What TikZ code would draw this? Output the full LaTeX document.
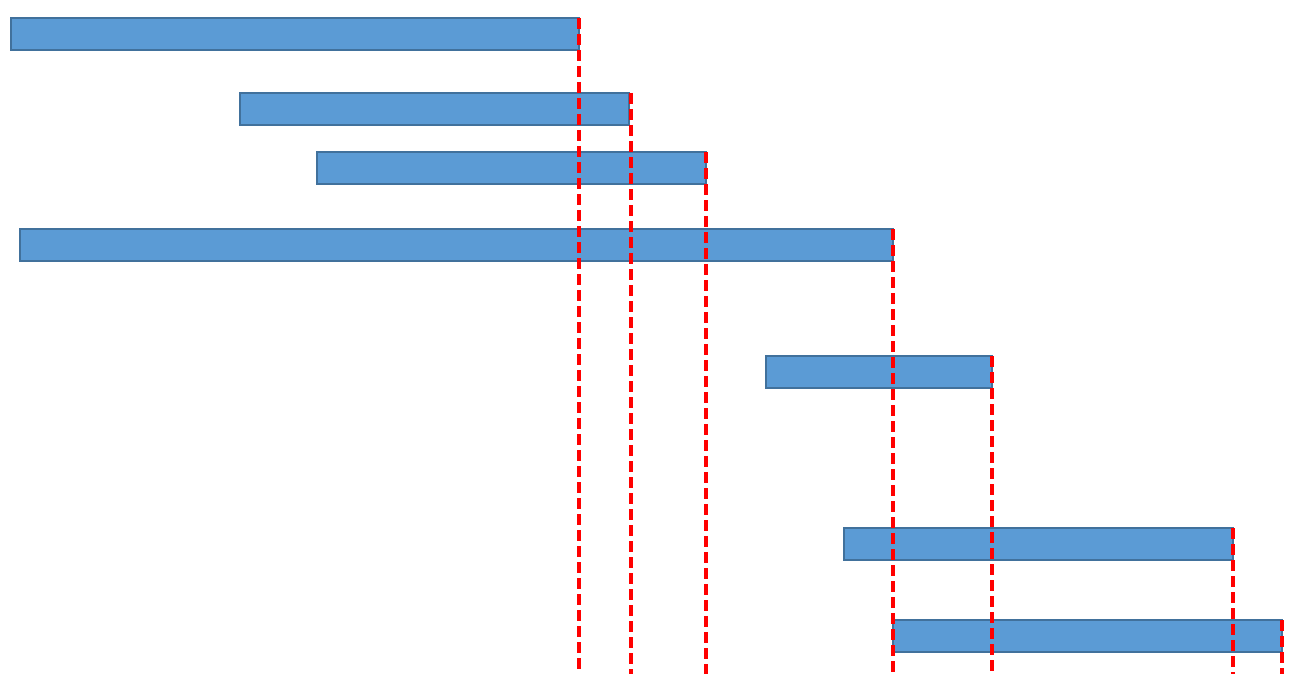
\documentclass[tikz,border=0pt]{standalone}
\usepackage{xcolor}
\definecolor{barfill}{HTML}{5B9BD5}
\definecolor{barline}{HTML}{41719C}
\definecolor{cut}{HTML}{FF0000}
\tikzset{
  bar/.style={fill=barfill,draw=barline,line width=1.6pt},
  cutline/.style={draw=cut,line width=3.6pt,dash pattern=on 11pt off 5pt}
}
\begin{document}
\begin{tikzpicture}[x=1pt,y=-1pt]
\useasboundingbox (0,0) rectangle (1300,674);
% bars
\path[bar] (11,18) rectangle (579,50);
\path[bar] (240,93) rectangle (629,125);
\path[bar] (317,152) rectangle (706,184);
\path[bar] (20,229) rectangle (893,261);
\path[bar] (766,356) rectangle (992,388);
\path[bar] (844,528) rectangle (1233,560);
\path[bar] (893,620) rectangle (1282,652);
% named end points
\coordinate (a1) at (579,18);  \coordinate (b1) at (579,670);
\coordinate (a2) at (631,93);  \coordinate (b2) at (631,674);
\coordinate (a3) at (706,152); \coordinate (b3) at (706,674);
\coordinate (a4) at (893,229); \coordinate (b4) at (893,674);
\coordinate (a5) at (992,356); \coordinate (b5) at (992,674);
\coordinate (a6) at (1233,528);\coordinate (b6) at (1233,674);
\coordinate (a7) at (1282,620);\coordinate (b7) at (1282,674);
\foreach \i in {1,...,7} \draw[cutline] (a\i) -- (b\i);
\end{tikzpicture}
\end{document}
